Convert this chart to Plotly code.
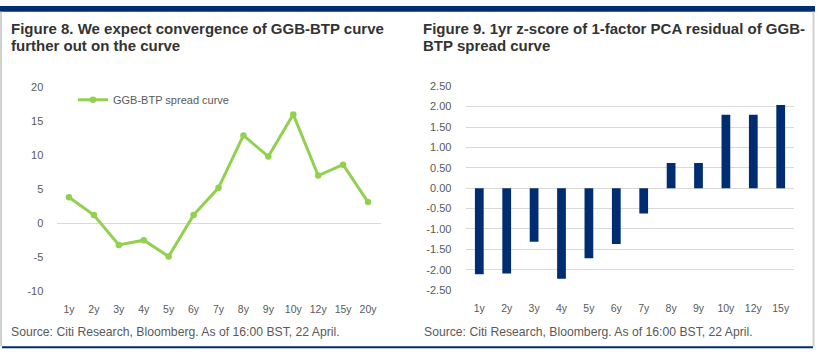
import plotly.graph_objects as go

W, H = 819, 359

# ---- data ----
line_categories = ["1y", "2y", "3y", "4y", "5y", "6y", "7y", "8y", "9y", "10y", "12y", "15y", "20y"]
spread_curve = [3.8, 1.2, -3.2, -2.5, -4.9, 1.2, 5.2, 12.9, 9.8, 16.0, 7.0, 8.6, 3.1]

bar_categories = ["1y", "2y", "3y", "4y", "5y", "6y", "7y", "8y", "9y", "10y", "12y", "15y"]
zscore = [-2.11, -2.09, -1.31, -2.22, -1.72, -1.37, -0.62, 0.62, 0.62, 1.80, 1.80, 2.04]

left_ticks = [-10, -5, 0, 5, 10, 15, 20]
left_ticklabels = ["-10", "-5", "0", "5", "10", "15", "20"]
right_ticks = [-2.5, -2.0, -1.5, -1.0, -0.5, 0.0, 0.5, 1.0, 1.5, 2.0, 2.5]
right_ticklabels = ["-2.50", "-2.00", "-1.50", "-1.00", "-0.50", "0.00",
                    "0.50", "1.00", "1.50", "2.00", "2.50"]

left_title = ["Figure 8. We expect convergence of GGB-BTP curve", "further out on the curve"]
right_title = ["Figure 9. 1yr z-score of 1-factor PCA residual of GGB-", "BTP spread curve"]
source_text = "Source: Citi Research, Bloomberg. As of 16:00 BST, 22 April."

GREEN = "#92D050"
NAVY = "#002D72"
GRID = "#D9D9D9"
TXT = "#595959"
TITLE = "#333333"
FONT = "Liberation Sans, Arial, sans-serif"


def px(x):
    return x / W


def py(y):
    return 1 - y / H


fig = go.Figure()

fig.add_trace(go.Scatter(
    x=line_categories, y=spread_curve, mode="lines+markers",
    name="GGB-BTP spread curve",
    line=dict(color=GREEN, width=3),
    marker=dict(color=GREEN, size=6.5),
    xaxis="x", yaxis="y",
))

fig.add_trace(go.Bar(
    x=bar_categories, y=zscore, marker=dict(color=NAVY, line=dict(width=0)),
    width=0.32, showlegend=False, xaxis="x2", yaxis="y2",
))

ytickfont = dict(family=FONT, size=11, color=TXT)
xtickfont = dict(family=FONT, size=10.5, color=TXT)

fig.update_layout(
    width=W, height=H,
    margin=dict(l=0, r=0, t=0, b=0),
    paper_bgcolor="white", plot_bgcolor="white",
    font=dict(family=FONT, color=TXT),
    xaxis=dict(domain=[px(56.5), px(380.5)], range=[-0.5, 12.5], type="category",
               showgrid=False, zeroline=False, showline=False,
               ticks="outside", ticklen=8, tickcolor="rgba(0,0,0,0)",
               tickfont=xtickfont, anchor="y"),
    yaxis=dict(domain=[py(295), py(84)], range=[-10, 20],
               tickvals=left_ticks, ticktext=left_ticklabels,
               showgrid=False, zeroline=True, zerolinecolor=GRID, zerolinewidth=1,
               showline=False, ticks="outside", ticklen=10, tickcolor="rgba(0,0,0,0)",
               tickfont=ytickfont, anchor="x"),
    xaxis2=dict(domain=[px(465.6), px(794.4)], range=[-0.5, 11.5], type="category",
                showgrid=False, zeroline=False, showline=False,
                ticks="outside", ticklen=8, tickcolor="rgba(0,0,0,0)",
                tickfont=xtickfont, anchor="y2"),
    yaxis2=dict(domain=[py(294), py(83)], range=[-2.5, 2.5],
                tickvals=right_ticks, ticktext=right_ticklabels,
                showgrid=True, gridcolor=GRID, gridwidth=1,
                zeroline=True, zerolinecolor=GRID, zerolinewidth=1,
                showline=False, ticks="outside", ticklen=11, tickcolor="rgba(0,0,0,0)",
                tickfont=ytickfont, anchor="x2"),
    showlegend=True,
    legend=dict(x=px(73), y=py(97), xanchor="left", yanchor="middle",
                bgcolor="rgba(0,0,0,0)", font=dict(family=FONT, size=11, color=TXT),
                itemwidth=30),
)

annotations = []
for i, t in enumerate(left_title):
    annotations.append(dict(text=t, x=px(9), y=py(23 + 18 * i), xref="paper", yref="paper",
                            xanchor="left", yanchor="middle", showarrow=False,
                            font=dict(family=FONT, size=15, color=TITLE, weight="bold")))
for i, t in enumerate(right_title):
    annotations.append(dict(text=t, x=px(421), y=py(23 + 18 * i), xref="paper", yref="paper",
                            xanchor="left", yanchor="middle", showarrow=False,
                            font=dict(family=FONT, size=15, color=TITLE, weight="bold")))
for x0 in (9, 422):
    annotations.append(dict(text=source_text, x=px(x0), y=py(337), xref="paper", yref="paper",
                            xanchor="left", yanchor="middle", showarrow=False,
                            font=dict(family=FONT, size=12.2, color=TXT)))
fig.update_layout(annotations=annotations)

shapes = [
    dict(type="rect", xref="paper", yref="paper", x0=0, x1=px(815), y0=py(6), y1=1,
         fillcolor=NAVY, line=dict(width=0)),
    dict(type="rect", xref="paper", yref="paper", x0=0, x1=px(2), y0=py(352), y1=py(6),
         fillcolor="#D0D0D0", line=dict(width=0)),
    dict(type="rect", xref="paper", yref="paper", x0=px(812.5), x1=px(814.5), y0=py(352), y1=py(6),
         fillcolor="#D0D0D0", line=dict(width=0)),
    dict(type="rect", xref="paper", yref="paper", x0=px(2), x1=px(813), y0=py(354), y1=py(352),
         fillcolor=NAVY, line=dict(width=0)),
]
fig.update_layout(shapes=shapes)

fig.write_html(
    "out.html",
    config={"displayModeBar": False},
    post_script=(
        "document.documentElement.style.margin='0';"
        "document.documentElement.style.overflow='hidden';"
        "document.body.style.margin='0';"
        "document.body.style.overflow='hidden';"
    ),
)
